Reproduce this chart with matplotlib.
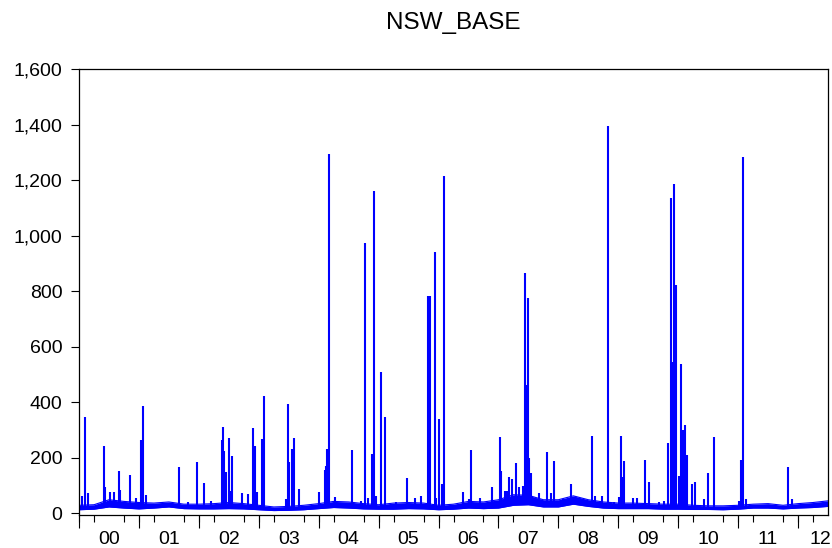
import numpy as np
import matplotlib
matplotlib.use("Agg")
import matplotlib.pyplot as plt
from matplotlib.ticker import FuncFormatter

# daily base price, NSW: background level read quarterly (low / high of the noisy band)
base_t = [2000.00, 2000.25, 2000.50, 2000.75, 2001.00, 2001.25, 2001.50, 2001.75,
          2002.00, 2002.25, 2002.50, 2002.75, 2003.00, 2003.25, 2003.50, 2003.75,
          2004.00, 2004.25, 2004.50, 2004.75, 2005.00, 2005.25, 2005.50, 2005.75,
          2006.00, 2006.25, 2006.50, 2006.75, 2007.00, 2007.25, 2007.50, 2007.75,
          2008.00, 2008.25, 2008.50, 2008.75, 2009.00, 2009.25, 2009.50, 2009.75,
          2010.00, 2010.25, 2010.50, 2010.75, 2011.00, 2011.25, 2011.50, 2011.75,
          2012.00, 2012.25, 2012.50]
base_lo = [12, 14, 22, 18, 15, 18, 22, 16, 15, 15, 16, 15, 12, 9, 10, 12,
           16, 20, 18, 15, 14, 14, 16, 15, 12, 14, 18, 16, 18, 28, 30, 22,
           22, 32, 24, 18, 16, 16, 16, 14, 14, 13, 13, 12, 14, 18, 18, 15,
           18, 20, 24]
base_hi = [28, 30, 48, 42, 38, 36, 40, 32, 32, 34, 38, 34, 28, 22, 24, 28,
           34, 42, 40, 34, 30, 36, 38, 36, 28, 32, 42, 40, 48, 66, 64, 48,
           48, 62, 48, 40, 36, 36, 34, 32, 32, 28, 26, 26, 28, 32, 34, 28,
           34, 38, 44]

# price spikes (date as decimal year, $/MWh)
spike_t = [2000.05, 2000.10, 2000.15, 2000.41, 2000.43, 2000.52, 2000.58, 2000.66,
           2000.68, 2000.85, 2000.95, 2001.04, 2001.07, 2001.12, 2001.66, 2001.82,
           2001.97, 2002.09, 2002.21, 2002.38, 2002.40, 2002.42, 2002.46, 2002.50,
           2002.53, 2002.56, 2002.72, 2002.82, 2002.90, 2002.93, 2002.97, 2003.05,
           2003.08, 2003.45, 2003.48, 2003.50, 2003.56, 2003.59, 2003.67, 2004.01,
           2004.10, 2004.12, 2004.14, 2004.18, 2004.27, 2004.55, 2004.71, 2004.78,
           2004.82, 2004.89, 2004.92, 2004.95, 2005.04, 2005.10, 2005.29, 2005.47,
           2005.61, 2005.70, 2005.83, 2005.86, 2005.94, 2005.96, 2006.00, 2006.06,
           2006.09, 2006.40, 2006.50, 2006.55, 2006.69, 2006.89, 2007.03, 2007.05,
           2007.11, 2007.14, 2007.17, 2007.22, 2007.29, 2007.34, 2007.41, 2007.44,
           2007.46, 2007.49, 2007.51, 2007.54, 2007.68, 2007.81, 2007.88, 2007.92,
           2008.08, 2008.21, 2008.56, 2008.61, 2008.73, 2008.83, 2008.92, 2009.01,
           2009.04, 2009.06, 2009.10, 2009.24, 2009.31, 2009.44, 2009.51, 2009.68,
           2009.76, 2009.83, 2009.88, 2009.90, 2009.93, 2009.96, 2010.02, 2010.05,
           2010.08, 2010.11, 2010.14, 2010.23, 2010.28, 2010.43, 2010.49, 2010.60,
           2011.02, 2011.05, 2011.08, 2011.13, 2011.84, 2011.90]
spike_v = [61, 347, 73, 241, 95, 75, 76, 152,
           83, 137, 54, 265, 387, 65, 167, 40,
           184, 107, 45, 265, 309, 222, 149, 270,
           80, 205, 71, 70, 308, 243, 75, 267,
           422, 50, 392, 185, 230, 271, 86, 77,
           155, 170, 230, 1294, 59, 227, 45, 974,
           55, 212, 1162, 60, 510, 345, 40, 125,
           55, 60, 782, 783, 940, 55, 338, 103,
           1215, 77, 50, 227, 55, 93, 275, 153,
           80, 80, 131, 124, 179, 93, 97, 864,
           461, 774, 197, 145, 73, 219, 72, 189,
           50, 104, 279, 60, 62, 1395, 40, 57,
           279, 131, 187, 53, 55, 193, 111, 40,
           45, 251, 1134, 545, 1186, 822, 133, 536,
           299, 317, 211, 104, 113, 52, 143, 275,
           45, 193, 1282, 50, 167, 50]

year_labels = ["00", "01", "02", "03", "04", "05", "06",
               "07", "08", "09", "10", "11", "12"]

blue = "#0000ff"
plt.rcParams["font.family"] = ["Liberation Sans", "DejaVu Sans"]
fig = plt.figure(figsize=(8.32, 5.48), dpi=100)
ax = fig.add_axes([0.095, 0.0602, 0.9002, 0.8139])

ax.fill_between(base_t, base_lo, base_hi, color=blue, lw=0)
ax.plot(base_t, base_lo, color=blue, lw=0.8)
ax.plot(base_t, base_hi, color=blue, lw=0.8)
spike_base = np.interp(spike_t, base_t, base_lo)
ax.vlines(spike_t, spike_base, spike_v, color=blue, lw=1.5)

xmin, xmax = 2000.0, 2012.5
ax.set_xlim(xmin, xmax)
ax.set_ylim(-7, 1600)

years = np.arange(2000, 2013)
lab_pos = [min(y + 0.5, xmax - 0.13) for y in years]
ax.set_xticks(lab_pos)
ax.set_xticklabels(year_labels, fontsize=14)
ax.tick_params(axis="x", which="major", length=0, pad=11.5)
ax.set_xticks(np.arange(2000, 2012.5, 0.25), minor=True)
ax.tick_params(axis="x", which="minor", length=5, width=0.8, direction="out")
sec = ax.secondary_xaxis("bottom")
sec.set_xticks(years[years <= xmax])
sec.set_xticklabels([])
sec.tick_params(length=9, width=0.8)
sec.spines["bottom"].set_visible(False)

ax.set_yticks(np.arange(0, 1601, 200))
ax.yaxis.set_major_formatter(FuncFormatter(lambda v, p: f"{int(v):,}"))
ax.tick_params(axis="y", length=6, width=0.8, pad=6, labelsize=14)
for s in ax.spines.values():
    s.set_linewidth(0.9)

ax.set_title("NSW_BASE", fontsize=17.5, pad=28.5)

fig.savefig("out.png", dpi=100)
